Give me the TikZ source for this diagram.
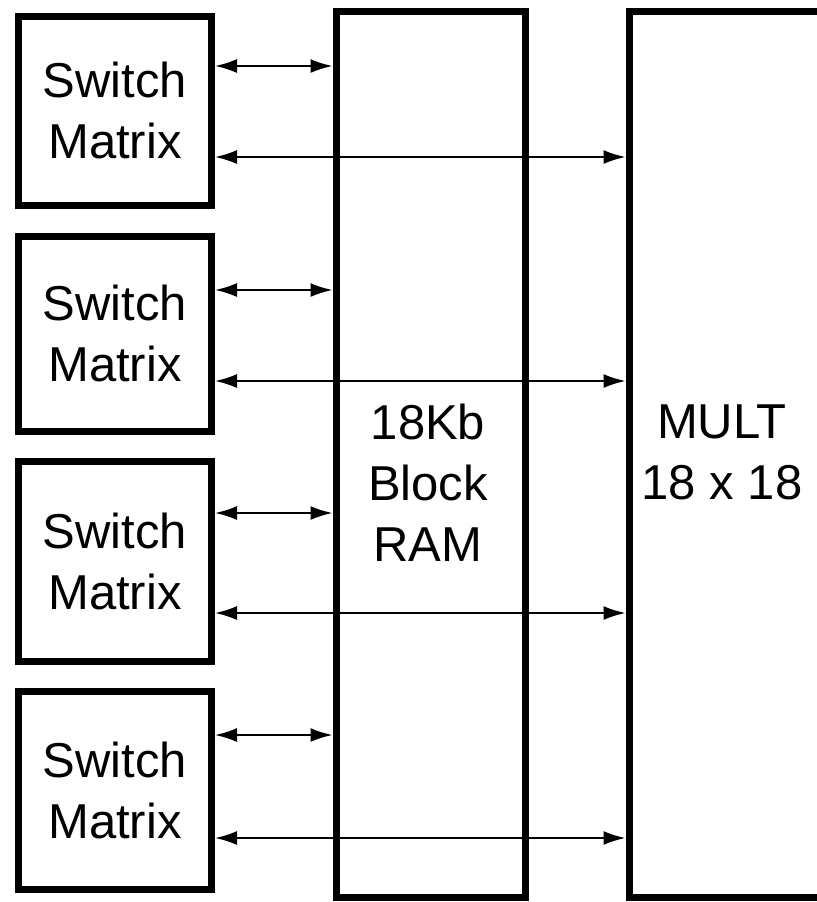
\documentclass[tikz,border=0pt]{standalone}
\usepackage{fontspec}
\setmainfont{Liberation Sans}
\usetikzlibrary{arrows.meta}

\begin{document}
\begin{tikzpicture}[x=0.5pt, y=-0.5pt, >={Latex[length=11pt,width=7pt]},
    box/.style={draw, line width=3.5pt, inner sep=0pt},
    lbl/.style={font=\fontsize{24.5}{30.5}\selectfont, align=center, inner sep=0pt}]
    \useasboundingbox (0,0) rectangle (817,902);

    \node[box, minimum width=94.5pt, minimum height=443pt] (ram) at (430.5,454) {};
    \node[box, minimum width=96.5pt, minimum height=443pt] (mult) at (725.5,454) {};
    \node[lbl, anchor=north] (ramtxt) at (428,404) {18Kb\\Block\\RAM};
    \node[lbl, anchor=north] (multtxt) at (722,404) {MULT\\18 x 18};

    \foreach \i/\y/\h/\s/\l in {1/110.5/189/66/157, 2/333.5/195/290/381,
                                3/561/200/513/613, 4/790/198/735/838} {
        \node[box, lbl, minimum width=96.5pt, minimum height=\h*0.5pt] (sw\i) at (115,\y) {Switch\\Matrix};
        \draw[<->, line width=1pt] (sw\i.east |- 0,\s) coordinate (a\i) -- (a\i -| ram.west);
        \draw[<->, line width=1pt] (sw\i.east |- 0,\l) coordinate (b\i) -- (b\i -| mult.west);
    }
\end{tikzpicture}
\end{document}
